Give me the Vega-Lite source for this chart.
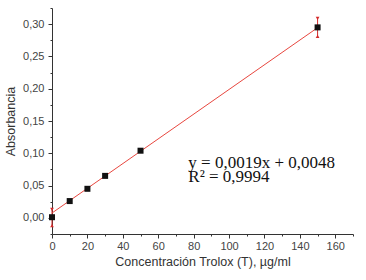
{
  "$schema": "https://vega.github.io/schema/vega-lite/v6.json",
  "width": 301,
  "height": 226,
  "autosize": {"type": "none"},
  "padding": {"left": 52, "top": 8, "right": 13, "bottom": 46},
  "background": "white",
  "config": {
    "view": {"stroke": null},
    "axis": {
      "domainColor": "#333333",
      "tickColor": "#333333",
      "labelColor": "#444444",
      "titleColor": "#333333",
      "labelFont": "Liberation Sans",
      "titleFont": "Liberation Sans",
      "labelFontSize": 11,
      "titleFontSize": 12.5,
      "titleFontWeight": "normal",
      "grid": false,
      "labelOverlap": false,
      "labelFlush": false
    }
  },
  "datasets": {
    "points": [
      {"conc": 0, "abs": 0.001},
      {"conc": 10, "abs": 0.026},
      {"conc": 20, "abs": 0.045},
      {"conc": 30, "abs": 0.065},
      {"conc": 50, "abs": 0.104},
      {"conc": 150, "abs": 0.295}
    ],
    "errs": [
      {"conc": 0, "abs": -0.012, "abs2": 0.013},
      {"conc": 150, "abs": 0.281, "abs2": 0.309}
    ],
    "caps": [
      {"conc": 0, "abs": 0.013, "cap": "top"},
      {"conc": 0, "abs": -0.012, "cap": "bottom"},
      {"conc": 150, "abs": 0.309, "cap": "top"},
      {"conc": 150, "abs": 0.281, "cap": "bottom"}
    ],
    "fit": [
      {"conc": 0, "abs": 0.0075},
      {"conc": 150, "abs": 0.2945}
    ],
    "notes": [
      {"conc": 77, "abs": 0.077, "txt": "y = 0,0019x + 0,0048\nR² = 0,9994"}
    ]
  },
  "encoding": {
    "x": {
      "field": "conc", "type": "quantitative",
      "scale": {"domain": [0, 170], "nice": false, "zero": false},
      "axis": {
        "title": "Concentración Trolox (T), µg/ml",
        "values": [0, 10, 20, 30, 40, 50, 60, 70, 80, 90, 100, 110, 120, 130, 140, 150, 160, 170],
        "labelExpr": "datum.value % 20 === 0 && datum.value <= 160 ? datum.label : ''",
        "tickSize": {"condition": {"test": "datum.value % 20 === 0", "value": 4}, "value": 2},
        "labelPadding": 2,
        "titlePadding": 4
      }
    },
    "y": {
      "field": "abs", "type": "quantitative",
      "scale": {"domain": [-0.025, 0.325], "nice": false, "zero": false},
      "axis": {
        "title": "Absorbancia",
        "values": [-0.025, 0, 0.025, 0.05, 0.075, 0.1, 0.125, 0.15, 0.175, 0.2, 0.225, 0.25, 0.275, 0.3, 0.325],
        "labelExpr": "abs(datum.value*20 - round(datum.value*20)) < 0.001 && datum.value > -0.01 && datum.value < 0.31 ? replace(format(datum.value, '.2f'), '.', ',') : ''",
        "tickSize": {"condition": {"test": "abs(datum.value*20 - round(datum.value*20)) < 0.001", "value": 4}, "value": 2},
        "labelPadding": 4,
        "titlePadding": 5
      }
    }
  },
  "layer": [
    {
      "data": {"name": "fit"},
      "mark": {"type": "line", "color": "#e8473f", "strokeWidth": 1}
    },
    {
      "data": {"name": "errs"},
      "mark": {"type": "rule", "color": "#d42a2a", "strokeWidth": 1},
      "encoding": {
        "y2": {"field": "abs2"}
      }
    },
    {
      "data": {"name": "caps"},
      "mark": {"type": "point", "filled": true, "color": "#d42a2a", "size": 14, "opacity": 1},
      "encoding": {
        "shape": {"field": "cap", "type": "nominal", "scale": {"domain": ["top", "bottom"], "range": ["triangle-down", "triangle-up"]}, "legend": null}
      }
    },
    {
      "data": {"name": "points"},
      "mark": {"type": "square", "filled": true, "color": "#111111", "size": 36, "opacity": 1}
    },
    {
      "data": {"name": "notes"},
      "mark": {"type": "text", "align": "left", "baseline": "alphabetic", "font": "Liberation Serif", "fontSize": 17, "color": "#111111", "lineBreak": "\n", "lineHeight": 14},
      "encoding": {
        "text": {"field": "txt"}
      }
    }
  ]
}
